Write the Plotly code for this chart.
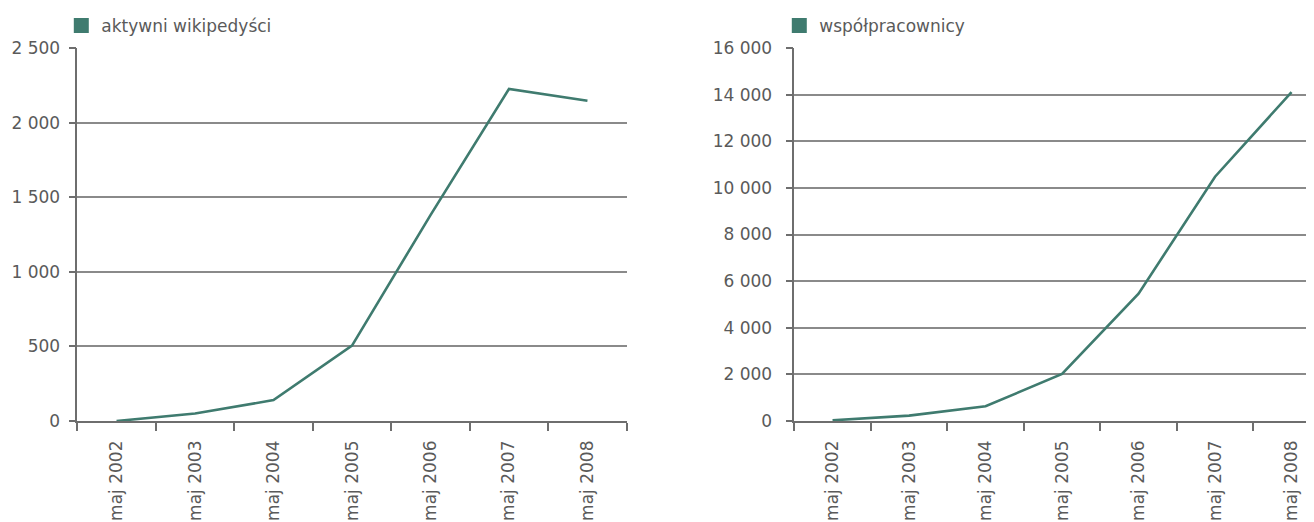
import plotly.graph_objects as go

years = ["maj 2002", "maj 2003", "maj 2004", "maj 2005", "maj 2006", "maj 2007", "maj 2008"]
active_wikipedians = [0, 50, 140, 505, 1380, 2225, 2147]
contributors = [30, 230, 630, 2020, 5460, 10480, 14110]
left_name = "aktywni wikipedyści"
right_name = "współpracownicy"

# page body has an 8px margin, so the figure is sized/placed to fit the viewport
OFF = 8
W, H = 1314 - OFF, 522 - OFF
TEAL = "#3f7b6f"
TXT = "#5a5a5a"
AX = "#6e6e6e"
GRID = "#8a8a8a"
FONT = "DejaVu Sans"

top_px, bot_px = 46.5 - OFF, 421.5 - OFF
plot_h = bot_px - top_px

fig = go.Figure()
fig.add_trace(go.Scatter(x=years, y=active_wikipedians, mode="lines",
                         line=dict(color=TEAL, width=2.6), showlegend=False,
                         xaxis="x", yaxis="y"))
fig.add_trace(go.Scatter(x=years, y=contributors, mode="lines",
                         line=dict(color=TEAL, width=2.6), showlegend=False,
                         xaxis="x2", yaxis="y2"))
# legend entries (square swatches)
fig.add_trace(go.Scatter(x=[None], y=[None], mode="markers", name=left_name,
                         marker=dict(symbol="square", size=15, color=TEAL),
                         legend="legend", xaxis="x", yaxis="y"))
fig.add_trace(go.Scatter(x=[None], y=[None], mode="markers", name=right_name,
                         marker=dict(symbol="square", size=15, color=TEAL),
                         legend="legend2", xaxis="x2", yaxis="y2"))

l1, r1 = 77.3 - OFF, 626.7 - OFF
l2 = 794.3 - OFF
band2 = 76.5
x2_end = -0.5 + (W - l2) / band2

xcommon = dict(type="category", tickson="boundaries", ticks="outside", ticklen=8,
               tickwidth=1.5, tickcolor=AX, showline=True, linecolor=AX, linewidth=1.5,
               showgrid=False, tickangle=-90, ticklabelstandoff=11,
               tickfont=dict(family=FONT, size=17, color=TXT))
ycommon = dict(ticks="outside", ticklen=7, tickwidth=1.5, tickcolor=AX,
               showline=True, linecolor=AX, linewidth=1.5,
               showgrid=True, gridcolor=GRID, gridwidth=1.5, zeroline=False,
               tickformat=",d", tickfont=dict(family=FONT, size=17, color=TXT))

leg_y = 1 + (top_px - (24 - OFF)) / plot_h
legfont = dict(family=FONT, size=17, color=TXT)

fig.update_layout(
    width=W, height=H,
    margin=dict(l=0, r=0, t=top_px, b=H - bot_px, pad=0),
    paper_bgcolor="white", plot_bgcolor="white",
    separators=", ",
    font=dict(family=FONT, color=TXT),
    xaxis=dict(domain=[l1 / W, r1 / W], anchor="y", range=[-0.5, 6.5], **xcommon),
    xaxis2=dict(domain=[l2 / W, 1.0], anchor="y2", range=[-0.5, x2_end], **xcommon),
    yaxis=dict(domain=[0, 1], anchor="x", range=[0, 2500], dtick=500,
               ticklabelstandoff=5, **ycommon),
    yaxis2=dict(domain=[0, 1], anchor="x2", range=[0, 16000], dtick=2000,
                ticklabelstandoff=10, **ycommon),
    legend=dict(x=(82 - OFF - 20.7) / W, y=leg_y, xanchor="left", yanchor="middle",
                bgcolor="rgba(0,0,0,0)", font=legfont, itemsizing="trace"),
    legend2=dict(x=(800 - OFF - 20.7) / W, y=leg_y, xanchor="left", yanchor="middle",
                 bgcolor="rgba(0,0,0,0)", font=legfont, itemsizing="trace"),
)

fig.write_html("out.html")
